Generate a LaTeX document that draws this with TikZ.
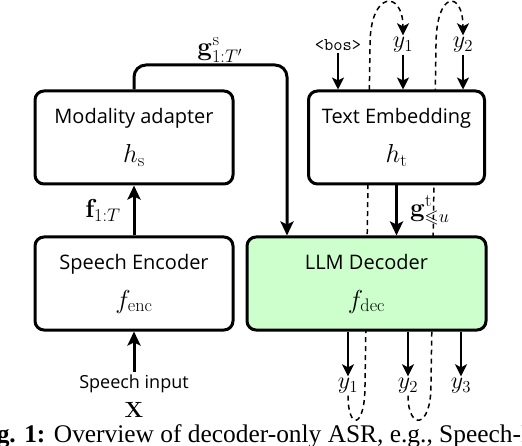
\RequirePackage{fix-cm}
\documentclass[tikz,border=0pt]{standalone}
\usepackage{amsmath,amssymb}
\usepackage[no-math]{fontspec}
\setmainfont{Open Sans}
\newfontfamily\capfont{Liberation Serif}
\usetikzlibrary{arrows.meta,positioning}
\definecolor{decfill}{RGB}{204,255,204}
\newcommand{\mathtxt}[1]{{\fontsize{26}{30}\selectfont$#1$}}

\begin{document}
\begin{tikzpicture}[x=1pt, y=-1pt, every node/.style={font=\fontsize{18}{22}\selectfont}]
\tikzset{blockbox/.style={draw, line width=3pt, rounded corners=9pt, fill=white,
  minimum width=198pt, minimum height=93pt, align=center, inner sep=4pt,
  font=\fontsize{20}{24}\selectfont},
  sym/.style={font=\fontsize{26}{30}\selectfont, inner sep=2pt},
  flow/.style={-{Stealth[length=14pt,width=13pt,inset=3pt]}, line width=3pt},
  token/.style={-{Stealth[length=12pt,width=12pt,inset=3pt]}, line width=1.8pt},
  feedback/.style={-{Stealth[length=12pt,width=12pt,inset=3pt]}, line width=1.5pt,
  dash pattern=on 5pt off 4pt}}
\useasboundingbox (0,0) rectangle (522,446);
\clip (0,0) rectangle (522,446);

% tokens fed in and predicted
\node[inner sep=2pt, font=\ttfamily\fontsize{18}{22}\selectfont] (bos) at (338,45) {<bos>};
\node[sym, font=\fontsize{24}{28}\selectfont] (i1) at (403,45) {$y_1$};
\node[sym, font=\fontsize{24}{28}\selectfont] (i2) at (463,45) {$y_2$};
\node[sym, font=\fontsize{24}{28}\selectfont] (o1) at (348,386) {$y_1$};
\node[sym, font=\fontsize{24}{28}\selectfont] (o2) at (408,386) {$y_2$};
\node[sym, font=\fontsize{24}{28}\selectfont] (o3) at (461,386) {$y_3$};

% autoregressive feedback (runs behind the boxes)
\draw[feedback] (o1.south) .. controls (348,430) and (365,430) .. (365,385)
  -- (370,45) .. controls (370,-10) and (403,-10) .. (i1.north);
\draw[feedback] (o2.south) .. controls (408,430) and (431,430) .. (431,385)
  -- (436,45) .. controls (436,-10) and (463,-10) .. (i2.north);

% blocks
\node[blockbox] (enc) at (134,283.5) {Speech Encoder\\[15pt]\mathtxt{f_{\mathrm{enc}}}};
\node[blockbox, above=50pt of enc] (adp) {Modality adapter\\[15pt]\mathtxt{h_{\mathrm{s}}}};
\node[blockbox, fill=decfill, minimum width=239pt, right=11pt of enc] (dec)
  {LLM Decoder\\[15pt]\mathtxt{f_{\mathrm{dec}}}};
\node[blockbox, minimum width=176pt, above left=50pt and 1.5pt of dec.north east] (emb)
  {Text Embedding\\[15pt]\mathtxt{h_{\mathrm{t}}}};

\node[below=40pt of enc] (inp) {Speech input};
\node[inner sep=1pt, font=\fontsize{22}{26}\selectfont] (x) at (134,410) {$\mathbf{X}$};
\coordinate (bend) at (287,65);

% connections
\draw[flow] (inp) -- (enc);
\draw[flow] (enc) -- node[sym, left=10pt] {$\mathbf{f}_{1:T}$} (adp);
\draw[flow, rounded corners=12pt] (adp.north) |- (bend) -- (bend |- dec.north);
\node[sym] (gs) at (220,50) {$\mathbf{g}^{\mathrm{s}}_{1:T'}$};
\draw[flow] (emb.south) -- node[sym, right=10pt] {$\mathbf{g}^{\mathrm{t}}_{\leqslant u}$}
  (emb.south |- dec.north);
\draw[token] (bos) -- (bos |- emb.north);
\draw[token] (i1) -- (i1 |- emb.north);
\draw[token] (i2) -- (i2 |- emb.north);
\draw[token] (o1 |- dec.south) -- (o1);
\draw[token] (o2 |- dec.south) -- (o2);
\draw[token] (o3 |- dec.south) -- (o3);

\node[anchor=base west, inner sep=0pt, font=\capfont\fontsize{25.4}{30}\selectfont] (caption)
  at (-26,442) {\textbf{Fig. 1:} Overview of decoder-only ASR, e.g., Speech-LLaMA};
\end{tikzpicture}
\end{document}
